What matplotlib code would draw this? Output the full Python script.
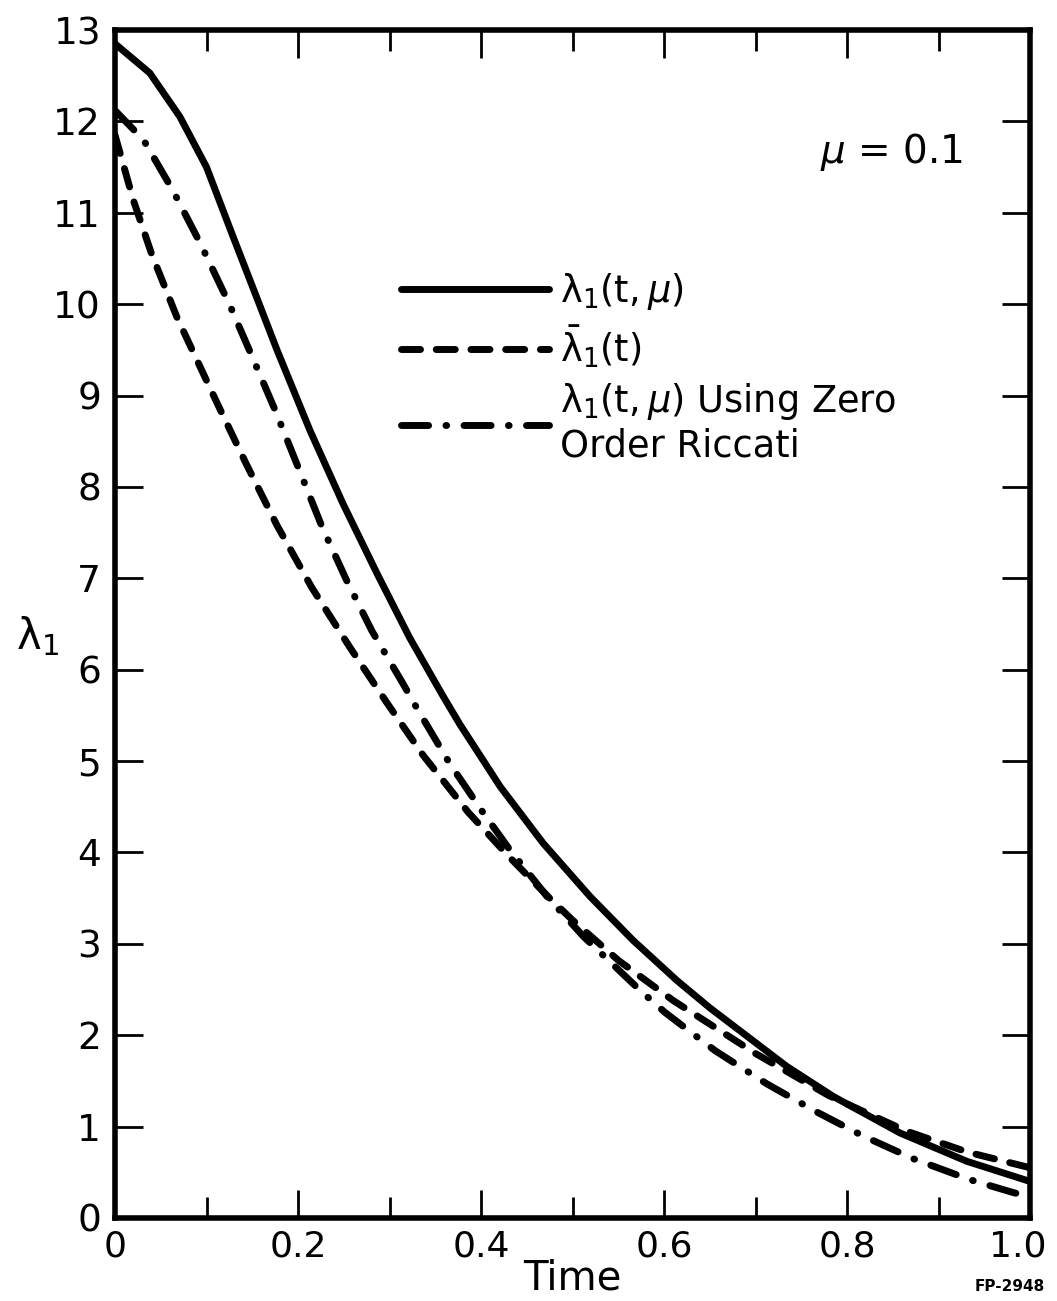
import numpy as np
import matplotlib
matplotlib.use("Agg")
import matplotlib.pyplot as plt
import matplotlib.transforms as mtransforms
from matplotlib.ticker import MultipleLocator

t_exact = [0, 0.038, 0.071, 0.1, 0.129, 0.155, 0.177, 0.213, 0.249, 0.286, 0.322,
           0.358, 0.377, 0.421, 0.468, 0.519, 0.566, 0.614, 0.65, 0.734, 0.785,
           0.858, 0.931, 1.0]
lam_exact = [12.85, 12.53, 12.05, 11.5, 10.74, 10.07, 9.5, 8.62, 7.82, 7.06, 6.35,
             5.72, 5.40, 4.72, 4.10, 3.52, 3.04, 2.6, 2.3, 1.66, 1.33,
             0.93, 0.62, 0.40]

t_bar = [0, 0.02, 0.04, 0.068, 0.111, 0.144, 0.177, 0.215, 0.257, 0.297, 0.337,
         0.386, 0.43, 0.475, 0.5, 0.55, 0.61, 0.7, 0.78, 0.865, 0.932, 1.0]
lam_bar = [11.85, 11.14, 10.55, 9.85, 8.93, 8.24, 7.58, 6.9, 6.24, 5.64, 5.06,
           4.44, 3.96, 3.5, 3.26, 2.82, 2.38, 1.8, 1.34, 0.95, 0.72, 0.55]

t_ric = [0, 0.031, 0.063, 0.093, 0.125, 0.151, 0.175, 0.2, 0.226, 0.253, 0.281,
         0.314, 0.331, 0.366, 0.402, 0.43, 0.472, 0.512, 0.574, 0.601, 0.656,
         0.712, 0.765, 0.817, 0.872, 0.934, 0.981, 1.0]
lam_ric = [12.12, 11.8, 11.25, 10.67, 10.0, 9.40, 8.84, 8.22, 7.57, 6.98, 6.42,
           5.86, 5.56, 4.97, 4.44, 4.05, 3.52, 3.08, 2.49, 2.25, 1.83,
           1.47, 1.17, 0.9, 0.65, 0.42, 0.28, 0.23]

xticks = [0, 0.2, 0.4, 0.6, 0.8, 1.0]
xticklabels = ['0', '0.2', '0.4', '0.6', '0.8', '1.0']

labels = [r'$\mathregular{\lambda_1(t,}\mu\mathregular{)}$',
          r'$\mathregular{\bar{\lambda}_1(t)}$',
          r'$\mathregular{\lambda_1(t,}\mu\mathregular{)}$ Using Zero' + '\nOrder Riccati']

plt.rcParams['font.family'] = ['DejaVu Sans']
plt.rcParams['mathtext.fontset'] = 'dejavusans'
plt.rcParams['lines.scale_dashes'] = False

fig = plt.figure(figsize=(10.57, 13.01), dpi=100)
ax = fig.add_axes([0.1088, 0.0638, 0.8657, 0.9131])

lw = 5
ax.plot(t_exact, lam_exact, color='black', lw=lw, solid_capstyle='round',
        solid_joinstyle='round', label=labels[0])
ax.plot(t_bar, lam_bar, color='black', lw=lw, linestyle=(0, (13.7, 11.3)),
        dash_capstyle='round', dash_joinstyle='round', label=labels[1])
ax.plot(t_ric, lam_ric, color='black', lw=lw, linestyle=(0, (19.5, 12.5, 0.5, 12.5)),
        dash_capstyle='round', dash_joinstyle='round', label=labels[2])

ax.set_xlim(0, 1.0)
ax.set_ylim(0, 13)

for s in ax.spines.values():
    s.set_linewidth(4)

ax.xaxis.set_minor_locator(MultipleLocator(0.1))
ax.yaxis.set_major_locator(MultipleLocator(1))
ax.set_xticks(xticks)
ax.set_xticklabels(xticklabels)
ax.tick_params(axis='x', which='major', direction='in', length=20, width=2,
               top=True, labelsize=26, pad=8)
ax.tick_params(axis='x', which='minor', direction='in', length=15, width=2, top=True)
ax.tick_params(axis='y', which='major', direction='in', length=20, width=2,
               right=True, labelsize=27, pad=10)

# nudge the last x label so it stays inside the figure
last = ax.get_xticklabels()[-1]
last.set_transform(last.get_transform() +
                   mtransforms.ScaledTranslation(-12 / 100, 0, fig.dpi_scale_trans))

ax.set_xlabel('Time', fontsize=29, labelpad=-3)
ax.set_ylabel(r'$\mathregular{\lambda_1}$', fontsize=30, rotation=0, va='center')
ax.yaxis.set_label_coords(-0.085, 0.49)

ax.text(0.77, 11.55, r'$\mu$ = 0.1', fontsize=28)

ax.legend(loc='upper left', bbox_to_anchor=(0.313, 0.797), frameon=False,
          fontsize=26.5, handlelength=4.0, handletextpad=0.3, labelspacing=0.3,
          borderpad=0, borderaxespad=0)

fig.text(0.955, 0.008, 'FP-2948', fontsize=11, fontweight='bold', ha='center')

fig.savefig('out.png', dpi=100)
